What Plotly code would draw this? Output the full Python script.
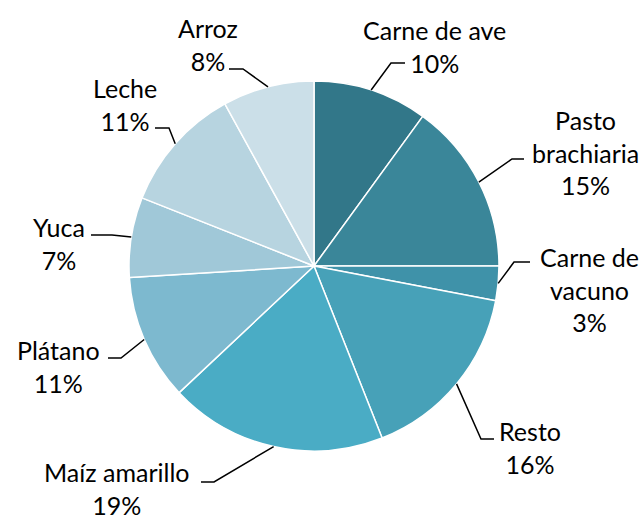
import math
import plotly.graph_objects as go

W, H = 644, 518
OFF = 0  # body margin removed via post_script

categories = ["Carne de ave", "Pasto brachiaria", "Carne de vacuno", "Resto",
              "Maíz amarillo", "Plátano", "Yuca", "Leche", "Arroz"]
values = [10, 15, 3, 16, 19, 11, 7, 11, 8]
label_texts = ["Carne de ave<br>10%", "Pasto<br>brachiaria<br>15%", "Carne de<br>vacuno<br>3%",
               "Resto<br>16%", "Maíz amarillo<br>19%", "Plátano<br>11%", "Yuca<br>7%",
               "Leche<br>11%", "Arroz<br>8%"]
colors = ["#327789", "#3A8699", "#3F92A9", "#47A1B8", "#4AACC5",
          "#7DB9CF", "#A0C8D8", "#B7D4E0", "#CBDFE8"]

# layout (screen pixel positions of labels and leader elbows)
CX, CY, R = 314, 266, 185
label_pos = [(434, 46), (585, 152), (589, 289), (530, 447), (116, 488),
             (58, 366), (59, 243), (125, 104), (208, 44)]
elbows = [((391, 63), (405, 63)), ((512, 159), (524, 159)), ((514, 262), (530, 262)),
          ((481, 439), (494, 439)), ((214, 482), (201, 482)), ((121, 358), (108, 358)),
          ((112, 235), (91, 235)), ((169, 128), (155, 128)), ((243, 69), (229, 69))]


def px(x):
    return (x - OFF) / W


def py(y):
    return 1 - (y - OFF) / H


fig = go.Figure(go.Pie(
    labels=categories, values=values, sort=False, direction="clockwise", rotation=0,
    marker=dict(colors=colors, line=dict(color="white", width=1.5)),
    textinfo="none", hoverinfo="label+percent", showlegend=False,
    domain=dict(x=[px(CX - R), px(CX + R)], y=[py(CY + R), py(CY - R)]),
))

total = sum(values)
cum = 0
shapes = []
annotations = []
for i, v in enumerate(values):
    mid = (cum + v / 2) / total * 2 * math.pi
    cum += v
    sx = CX + R * math.sin(mid)
    sy = CY - R * math.cos(mid)
    (ex, ey), (tx, ty) = elbows[i]
    path = f"M {px(sx)},{py(sy)} L {px(ex)},{py(ey)} L {px(tx)},{py(ty)}"
    shapes.append(dict(type="path", xref="paper", yref="paper", path=path,
                       line=dict(color="black", width=1.5)))
    lx, ly = label_pos[i]
    annotations.append(dict(x=px(lx), y=py(ly), xref="paper", yref="paper",
                            text=label_texts[i], showarrow=False, align="center",
                            xanchor="center", yanchor="middle",
                            font=dict(family="Lato", size=25, color="black")))

fig.update_layout(width=W, height=H, margin=dict(l=0, r=0, t=0, b=0),
                  paper_bgcolor="white", plot_bgcolor="white",
                  shapes=shapes, annotations=annotations)
fig.write_html("out.html", config={"displayModeBar": False},
               post_script="document.body.style.margin='0';document.body.style.overflow='hidden';")
